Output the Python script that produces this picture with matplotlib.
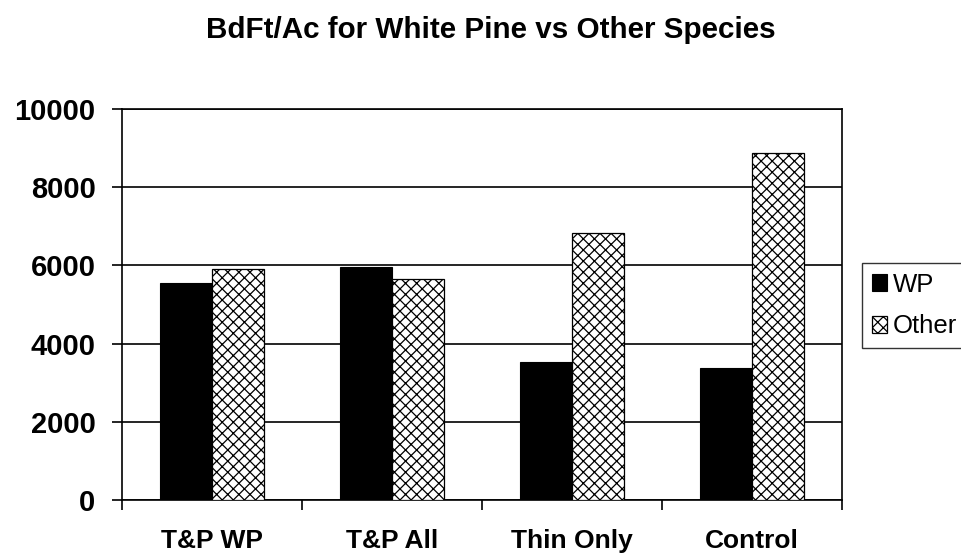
import matplotlib
matplotlib.use("Agg")
import matplotlib.pyplot as plt
import numpy as np

plt.rcParams['font.family'] = ['Liberation Sans', 'DejaVu Sans']
plt.rcParams['hatch.linewidth'] = 0.9
plt.rcParams['hatch.color'] = '#333333'

categories = ["T&P WP", "T&P All", "Thin Only", "Control"]
wp_values = [5540, 5970, 3540, 3370]
other_values = [5910, 5660, 6840, 8870]
yticks = [0, 2000, 4000, 6000, 8000, 10000]

W, H = 961, 556
fig = plt.figure(figsize=(W / 100, H / 100), dpi=100)
ax = fig.add_axes([122 / W, 1 - 500 / H, 720 / W, 391 / H])

x = np.arange(len(categories))
w = 0.29
ax.bar(x - w/2, wp_values, w, color='black', edgecolor='black', linewidth=0.8, label='WP', zorder=3)
ax.bar(x + w/2, other_values, w, color='white', edgecolor='black', hatch='xxx', linewidth=0.9, label='Other', zorder=3)

ax.set_xlim(-0.5, len(categories) - 0.5)
ax.set_ylim(0, 10000)
ax.set_yticks(yticks)
ax.set_yticklabels([str(v) for v in yticks], fontsize=21, fontweight='bold')
ax.yaxis.grid(True, color='black', linewidth=1.2, zorder=0)
ax.set_axisbelow(True)

ax.set_xticks(np.arange(-0.5, len(categories)), minor=False)
ax.set_xticklabels([])
ax.set_xticks(x, minor=True)
ax.set_xticklabels(categories, minor=True, fontsize=19, fontweight='bold')
ax.tick_params(axis='x', which='major', direction='out', length=7, width=1.2)
ax.tick_params(axis='x', which='minor', length=0, pad=21)
ax.tick_params(axis='y', direction='out', length=7, width=1.2, pad=12)
for s in ax.spines.values():
    s.set_linewidth(1.2)

fig.text(491 / W, 1 - 30 / H, "BdFt/Ac for White Pine vs Other Species",
         fontsize=21.3, fontweight='bold', ha='center', va='center')

handles, labels = ax.get_legend_handles_labels()
leg = fig.legend(handles, labels, loc='upper left', bbox_to_anchor=(862 / W, 1 - 263 / H),
                 bbox_transform=fig.transFigure, borderaxespad=0,
                 fontsize=18.5, frameon=True, fancybox=False, edgecolor='black',
                 handlelength=0.6, handleheight=0.6, handletextpad=0.22,
                 borderpad=0.37, labelspacing=0.7)
leg.get_frame().set_linewidth(1.0)

fig.savefig("out.png", dpi=100)
